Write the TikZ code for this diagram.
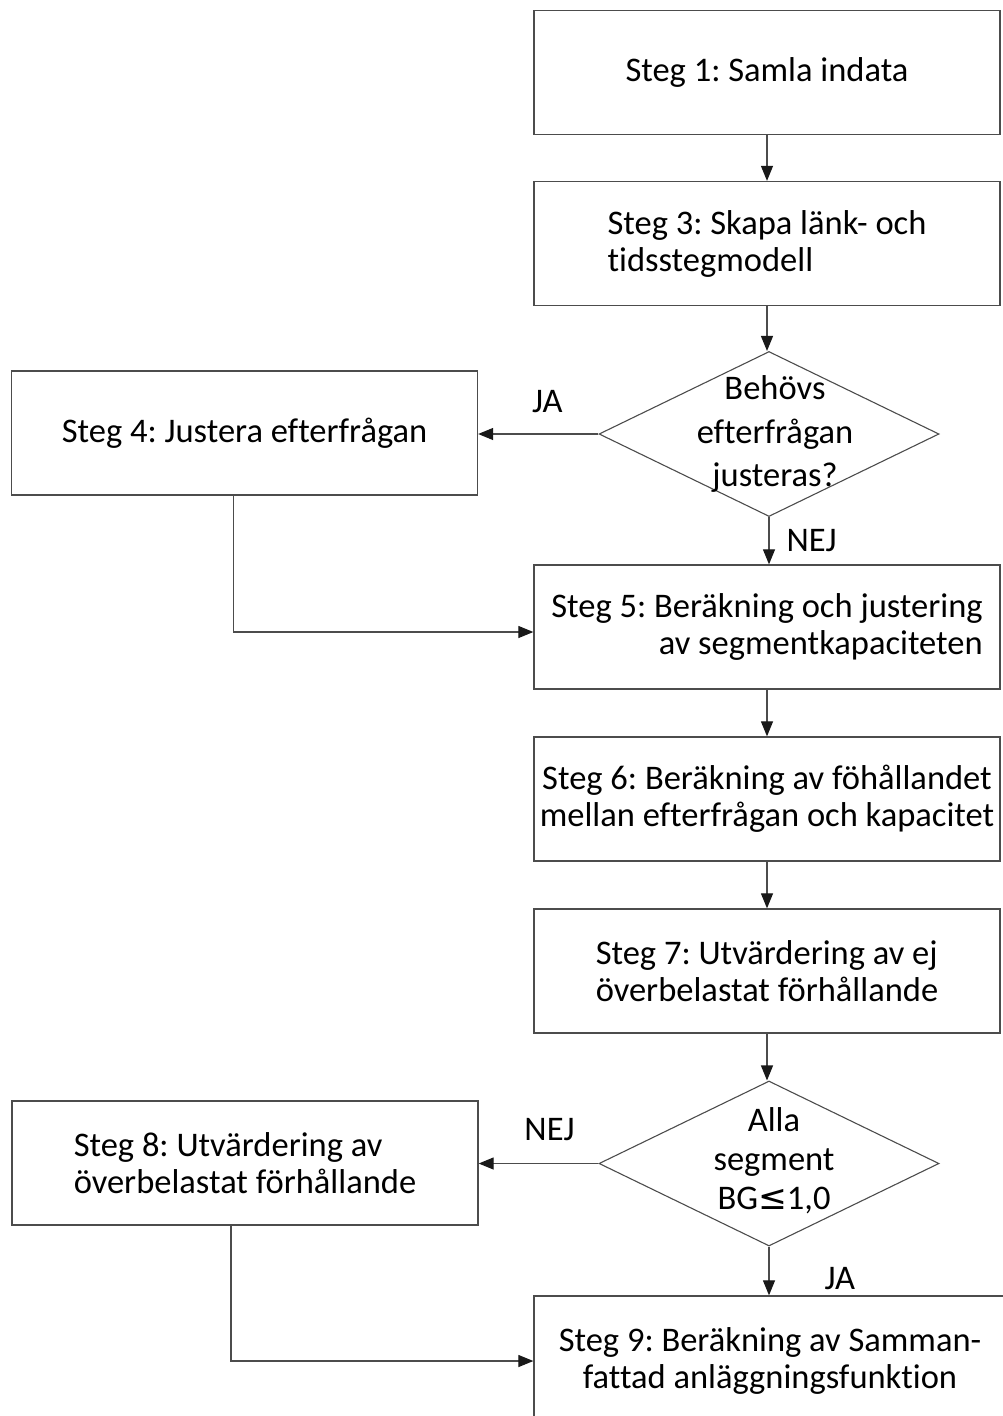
\documentclass[tikz,border=0pt]{standalone}
\usepackage{fontspec}
\setmainfont{Carlito}[Ligatures=CommonOff]
\newfontfamily\symfont{DejaVu Sans}
\usetikzlibrary{shapes.geometric}
\usetikzlibrary{arrows.meta}
\frenchspacing

\tikzset{
    stegbox/.style={shape=rectangle, draw=black!70, line width=1.3pt,
        minimum width=466pt, minimum height=124pt, inner sep=0pt,
        align=center, font=\fontsize{34.5}{37}\selectfont},
    beslut/.style={shape=diamond, draw=black!70, line width=1.1pt,
        minimum width=340pt, minimum height=165pt, inner sep=0pt},
    beslutstext/.style={inner sep=0pt, align=center},
    svar/.style={inner sep=0pt, font=\fontsize{34.5}{37}\selectfont},
    pil/.style={draw=black!70, line width=1.2pt,
        -{Triangle[length=15pt, width=12pt, color=black!90]}}}

\begin{document}
\begin{tikzpicture}[x=1pt, y=-1pt]

    \useasboundingbox (0,0) rectangle (1003,1416);
    \clip (0,0) rectangle (1003,1416);

    % stegen
    \node[stegbox] (S1) at (767,72.5) {Steg 1: Samla indata};
    \node[stegbox, align=left] (S3) at (767,243.5) {Steg 3: Skapa länk- och\\tidsstegmodell};
    \node[stegbox] (S4) at (244.5,433) {Steg 4: Justera efterfrågan};
    \node[stegbox, align=right] (S5) at (767,627) {Steg 5: Beräkning och justering\\av segmentkapaciteten};
    \node[stegbox] (S6) at (767,799) {Steg 6: Beräkning av föhållandet\\mellan efterfrågan och kapacitet};
    \node[stegbox, align=left] (S7) at (767,971) {Steg 7: Utvärdering av ej\\överbelastat förhållande};
    \node[stegbox, align=left] (S8) at (245,1163) {Steg 8: Utvärdering av\\överbelastat förhållande};
    \node[stegbox, minimum width=472pt, minimum height=130pt] (S9) at (770,1361) {Steg 9: Beräkning av Samman-\\fattad anläggningsfunktion};

    % frågorna
    \node[beslut] (D1) at (769,434) {};
    \node[beslutstext, font=\fontsize{34.5}{43.5}\selectfont] (T1) at (775,434) {Behövs\\efterfrågan\\justeras?};
    \node[beslut] (D2) at (769,1163.5) {};
    \node[beslutstext, font=\fontsize{34.5}{39}\selectfont] (T2) at (774,1161) {Alla\\segment\\BG{\symfont ≤}1,0};

    % pilar
    \draw[pil] (S1.south) -- (S3.north);
    \draw[pil] (S3.south) -- (S3.south |- D1.north);
    \draw[pil] (D1.west) -- (D1.west -| S4.east) node[svar, midway, above=21pt, xshift=9pt] {JA};
    \draw[pil] (D1.south) -- (D1.south |- S5.north) node[svar, midway, right=17pt] {NEJ};
    \draw[pil] ([xshift=-11pt]S4.south) |- ([yshift=-5pt]S5.west);
    \draw[pil] (S5.south) -- (S6.north);
    \draw[pil] (S6.south) -- (S7.north);
    \draw[pil] (S7.south) -- (S7.south |- D2.north);
    \draw[pil] (D2.west) -- (D2.west -| S8.east) node[svar, midway, above=22pt, xshift=11pt] {NEJ};
    \draw[pil] (D2.south) -- (D2.south |- S9.north) node[svar, midway, right=55pt, yshift=-8pt] {JA};
    \draw[pil] ([xshift=-14pt]S8.south) |- (S9.west);

\end{tikzpicture}
\end{document}
